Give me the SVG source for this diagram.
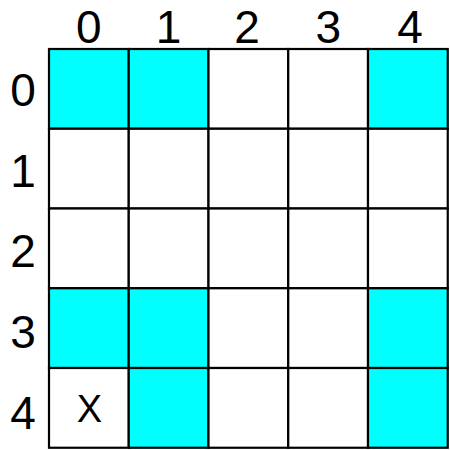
<svg xmlns="http://www.w3.org/2000/svg" width="450" height="450" viewBox="0 0 450 450">
<style>
.c{stroke:#000;stroke-width:2.2;fill:#fff}
.f{fill:#00ffff}
.t{font-family:"Liberation Sans",Arial,sans-serif;font-size:46px;fill:#000;text-anchor:middle}
.x{font-family:"Liberation Sans",Arial,sans-serif;font-size:38px;fill:#000;text-anchor:middle}
</style>
<rect width="450" height="450" fill="#fff"/>
<g id="col-labels">
<text class="t" x="88.9" y="43">0</text>
<text class="t" x="168.6" y="43">1</text>
<text class="t" x="247" y="43">2</text>
<text class="t" x="328.4" y="43">3</text>
<text class="t" x="410" y="43">4</text>
</g>
<g id="row-labels">
<text class="t" x="23" y="106">0</text>
<text class="t" x="23" y="187">1</text>
<text class="t" x="23" y="267">2</text>
<text class="t" x="23" y="348">3</text>
<text class="t" x="23" y="429">4</text>
</g>
<g id="cells">
<g id="r0c0"><rect class="c f" x="49" y="49" width="79.75" height="79.75"/></g>
<g id="r0c1"><rect class="c f" x="128.75" y="49" width="79.75" height="79.75"/></g>
<g id="r0c2"><rect class="c" x="208.5" y="49" width="79.75" height="79.75"/></g>
<g id="r0c3"><rect class="c" x="288.25" y="49" width="79.75" height="79.75"/></g>
<g id="r0c4"><rect class="c f" x="368" y="49" width="79.75" height="79.75"/></g>
<g id="r1c0"><rect class="c" x="49" y="128.75" width="79.75" height="79.75"/></g>
<g id="r1c1"><rect class="c" x="128.75" y="128.75" width="79.75" height="79.75"/></g>
<g id="r1c2"><rect class="c" x="208.5" y="128.75" width="79.75" height="79.75"/></g>
<g id="r1c3"><rect class="c" x="288.25" y="128.75" width="79.75" height="79.75"/></g>
<g id="r1c4"><rect class="c" x="368" y="128.75" width="79.75" height="79.75"/></g>
<g id="r2c0"><rect class="c" x="49" y="208.5" width="79.75" height="79.75"/></g>
<g id="r2c1"><rect class="c" x="128.75" y="208.5" width="79.75" height="79.75"/></g>
<g id="r2c2"><rect class="c" x="208.5" y="208.5" width="79.75" height="79.75"/></g>
<g id="r2c3"><rect class="c" x="288.25" y="208.5" width="79.75" height="79.75"/></g>
<g id="r2c4"><rect class="c" x="368" y="208.5" width="79.75" height="79.75"/></g>
<g id="r3c0"><rect class="c f" x="49" y="288.25" width="79.75" height="79.75"/></g>
<g id="r3c1"><rect class="c f" x="128.75" y="288.25" width="79.75" height="79.75"/></g>
<g id="r3c2"><rect class="c" x="208.5" y="288.25" width="79.75" height="79.75"/></g>
<g id="r3c3"><rect class="c" x="288.25" y="288.25" width="79.75" height="79.75"/></g>
<g id="r3c4"><rect class="c f" x="368" y="288.25" width="79.75" height="79.75"/></g>
<g id="r4c0"><rect class="c" x="49" y="368" width="79.75" height="79.75"/><text class="x" x="89.5" y="422">X</text></g>
<g id="r4c1"><rect class="c f" x="128.75" y="368" width="79.75" height="79.75"/></g>
<g id="r4c2"><rect class="c" x="208.5" y="368" width="79.75" height="79.75"/></g>
<g id="r4c3"><rect class="c" x="288.25" y="368" width="79.75" height="79.75"/></g>
<g id="r4c4"><rect class="c f" x="368" y="368" width="79.75" height="79.75"/></g>
</g>
<g id="connectors"></g>
</svg>
